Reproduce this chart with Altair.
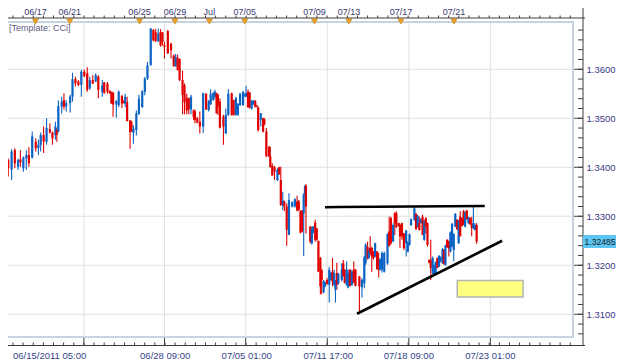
import altair as alt
import pandas as pd

# ---------------- candle data (4-hour bars) ----------------
# bar_pos: position of each bar along the time axis
# (axis units: 0 = 06/15/2011 05:00, 82.5 units = 112 trading hours)
bar_pos = [
    1.7,3.3,6.7,10,13.3,15.7,18.7,21.7,24.3,27.7,31.3,34,36.3,39.3,42.3,45.7,48.3,51.3,52.7,54.3,
    57.7,60,62.3,66.3,68.7,71.7,74.7,77.7,80.7,83.7,86.3,89.3,92.3,95,
    99,101,104.3,106.7,108.3,110,113.3,115.7,119,121,122.3,124.3,127.3,128.7,130.7,133.7,136.3,
    139.7,142.3,145,148.3,151,153.3,156,158.3,160.3,162.3,165.7,169,171.7,173.7,175.7,177.7,
    180.7,182.7,185,187,189.3,192,
    193.3,195.7,198.3,201.7,204.7,207.3,209.3,212,213.7,215.3,216.7,218.7,222.3,224.7,227.3,
    230.7,232.7,235,237,239.3,242.3,244,245.3,247.3,249,251,252.7,254.7,256.3,257.7,260.3,
    262.7,264,266,268.7,270,272,274.3,277.3,279,280.7,282.7,284.3,286.7,289,
    292.3,295,297.3,299,300.7,302.3,304,305.3,306.3,310.7,312.3,313.7,315.7,317.3,319,321,
    322.3,324.3,325.7,327.7,330,331.7,333.3,335,336.3,337.7,339.3,342.7,344.3,345.7,347.7,
    349.3,351,353,355,356.7,360.7,363.3,365.7,367,369,370.3,371.7,373.3,375,376.7,378.7,
    380.3,381.7,383.7,
    386,389.3,391,392.7,395,396.7,398.3,400.7,402,404,406,408.3,410,411.7,413.3,416.7,418.3,
    420,421.7,423.3,425,426.7,428.3,430,431.7,433.3,435.3,437,438.3,440,441.7,443.3,445.3,
    446.7,448.3,450,451.7,453.3,455,456.7,458.3,460,461.7,463.3,465,466.7,468.3,470,471.7,
    473.3,475,476.7,478.3,480,
]
open_ = [
    1.3468,1.3415,1.3395,1.3435,1.3401,1.3416,1.3398,1.3418,1.3425,1.3420,
    1.3452,1.3439,1.3446,1.3466,1.3452,1.3478,1.3471,1.3466,1.3477,1.3473,
    1.3524,1.3537,1.3524,1.3531,1.3544,1.3580,1.3575,1.3568,1.3595,1.3592,
    1.3561,1.3578,1.3575,1.3585,1.3554,1.3573,1.3571,1.3556,1.3554,1.3552,
    1.3528,1.3527,1.3546,1.3536,1.3530,1.3533,1.3496,1.3493,1.3470,1.3476,
    1.3508,1.3523,1.3554,1.3581,1.3608,1.3680,1.3676,1.3657,1.3676,1.3675,
    1.3649,1.3678,1.3652,1.3628,1.3606,1.3623,1.3621,1.3578,1.3567,1.3542,
    1.3541,1.3518,1.3516,1.3514,1.3500,1.3493,1.3483,1.3550,1.3517,1.3529,
    1.3537,1.3544,1.3551,1.3548,1.3534,1.3503,1.3469,1.3507,1.3551,1.3537,
    1.3507,1.3507,1.3527,1.3527,1.3546,1.3544,1.3554,1.3552,1.3520,1.3529,
    1.3536,1.3526,1.3522,1.3497,1.3500,1.3498,1.3473,1.3442,1.3422,1.3403,
    1.3400,1.3374,1.3400,1.3374,1.3323,1.3330,1.3320,1.3262,1.3320,1.3320,
    1.3330,1.3330,1.3310,1.3312,1.3306,1.3344,1.3362,1.3279,1.3245,1.3267,
    1.3287,1.3275,1.3250,1.3215,1.3191,1.3145,1.3157,1.3170,1.3160,1.3170,
    1.3187,1.3160,1.3150,1.3184,1.3163,1.3170,1.3204,1.3191,1.3160,1.3155,
    1.3191,1.3160,1.3191,1.3191,1.3177,1.3155,1.3163,1.3204,1.3238,1.3215,
    1.3235,1.3235,1.3228,1.3218,1.3228,1.3212,1.3191,1.3191,1.3187,1.3204,
    1.3269,1.3296,1.3249,1.3306,1.3306,1.3286,1.3282,1.3286,1.3265,1.3245,
    1.3228,1.3242,1.3282,1.3293,1.3305,1.3279,1.3286,1.3286,1.3299,1.3252,
    1.3296,1.3286,1.3211,1.3211,1.3184,1.3180,1.3185,1.3215,1.3197,1.3208,
    1.3204,1.3231,1.3201,1.3252,1.3249,1.3228,1.3238,1.3231,1.3279,1.3293,
    1.3245,1.3299,1.3296,1.3310,1.3279,1.3312,1.3286,1.3296,1.3286,1.3276,
    1.3272,1.3282,
]
high_ = [
    1.3473,1.3418,1.3437,1.3439,1.3418,1.3435,1.3422,1.3435,1.3441,1.3473,
    1.3459,1.3456,1.3471,1.3483,1.3500,1.3490,1.3473,1.3493,1.3480,1.3537,
    1.3544,1.3551,1.3537,1.3548,1.3593,1.3585,1.3578,1.3599,1.3599,1.3604,
    1.3585,1.3588,1.3592,1.3588,1.3578,1.3574,1.3574,1.3557,1.3554,1.3554,
    1.3537,1.3557,1.3547,1.3537,1.3550,1.3544,1.3496,1.3494,1.3486,1.3516,
    1.3548,1.3557,1.3584,1.3615,1.3684,1.3682,1.3682,1.3683,1.3682,1.3676,
    1.3656,1.3680,1.3654,1.3630,1.3631,1.3630,1.3622,1.3597,1.3571,1.3550,
    1.3542,1.3548,1.3518,1.3518,1.3503,1.3514,1.3552,1.3551,1.3537,1.3559,
    1.3554,1.3558,1.3552,1.3550,1.3541,1.3507,1.3520,1.3559,1.3552,1.3538,
    1.3544,1.3531,1.3552,1.3556,1.3550,1.3566,1.3559,1.3554,1.3537,1.3537,
    1.3537,1.3527,1.3524,1.3511,1.3501,1.3500,1.3480,1.3443,1.3442,1.3408,
    1.3403,1.3398,1.3401,1.3401,1.3350,1.3332,1.3326,1.3347,1.3330,1.3337,
    1.3342,1.3333,1.3312,1.3313,1.3347,1.3364,1.3366,1.3280,1.3279,1.3280,
    1.3293,1.3276,1.3250,1.3217,1.3191,1.3170,1.3167,1.3174,1.3197,1.3187,
    1.3215,1.3191,1.3170,1.3205,1.3184,1.3204,1.3211,1.3192,1.3208,1.3191,
    1.3192,1.3191,1.3208,1.3192,1.3178,1.3174,1.3219,1.3245,1.3248,1.3234,
    1.3259,1.3238,1.3229,1.3246,1.3229,1.3225,1.3215,1.3228,1.3228,1.3265,
    1.3299,1.3299,1.3286,1.3308,1.3310,1.3287,1.3284,1.3287,1.3266,1.3272,
    1.3249,1.3265,1.3296,1.3320,1.3306,1.3303,1.3299,1.3296,1.3303,1.3293,
    1.3298,1.3287,1.3212,1.3252,1.3218,1.3201,1.3208,1.3216,1.3221,1.3218,
    1.3235,1.3233,1.3242,1.3253,1.3250,1.3269,1.3286,1.3265,1.3306,1.3294,
    1.3293,1.3310,1.3298,1.3313,1.3310,1.3313,1.3299,1.3298,1.3299,1.3320,
    1.3286,1.3286,
]
low_ = [
    1.3410,1.3381,1.3374,1.3398,1.3395,1.3401,1.3391,1.3395,1.3401,1.3418,
    1.3432,1.3425,1.3432,1.3429,1.3446,1.3469,1.3446,1.3456,1.3452,1.3471,
    1.3510,1.3518,1.3514,1.3512,1.3534,1.3565,1.3566,1.3544,1.3584,1.3554,
    1.3558,1.3570,1.3574,1.3541,1.3544,1.3550,1.3550,1.3550,1.3530,1.3503,
    1.3501,1.3523,1.3521,1.3530,1.3523,1.3494,1.3438,1.3472,1.3448,1.3465,
    1.3508,1.3521,1.3547,1.3578,1.3608,1.3657,1.3656,1.3656,1.3646,1.3648,
    1.3622,1.3632,1.3622,1.3605,1.3605,1.3598,1.3576,1.3508,1.3508,1.3508,
    1.3508,1.3508,1.3496,1.3490,1.3490,1.3469,1.3470,1.3517,1.3514,1.3527,
    1.3536,1.3541,1.3510,1.3507,1.3479,1.3446,1.3468,1.3505,1.3505,1.3505,
    1.3505,1.3505,1.3525,1.3525,1.3544,1.3543,1.3522,1.3520,1.3518,1.3527,
    1.3522,1.3522,1.3473,1.3483,1.3471,1.3486,1.3422,1.3420,1.3400,1.3383,
    1.3374,1.3372,1.3384,1.3321,1.3313,1.3310,1.3240,1.3262,1.3318,1.3318,
    1.3310,1.3310,1.3265,1.3267,1.3219,1.3342,1.3265,1.3245,1.3242,1.3265,
    1.3248,1.3250,1.3187,1.3141,1.3141,1.3143,1.3155,1.3160,1.3124,1.3169,
    1.3157,1.3158,1.3124,1.3150,1.3161,1.3167,1.3177,1.3163,1.3158,1.3153,
    1.3157,1.3158,1.3163,1.3157,1.3104,1.3134,1.3153,1.3201,1.3212,1.3213,
    1.3221,1.3187,1.3212,1.3216,1.3191,1.3175,1.3189,1.3185,1.3185,1.3201,
    1.3238,1.3242,1.3247,1.3262,1.3276,1.3279,1.3235,1.3252,1.3231,1.3218,
    1.3226,1.3240,1.3280,1.3291,1.3272,1.3277,1.3271,1.3285,1.3262,1.3250,
    1.3265,1.3238,1.3204,1.3170,1.3182,1.3178,1.3184,1.3194,1.3196,1.3206,
    1.3203,1.3201,1.3199,1.3235,1.3218,1.3226,1.3237,1.3208,1.3278,1.3272,
    1.3244,1.3259,1.3279,1.3282,1.3277,1.3293,1.3285,1.3282,1.3259,1.3274,
    1.3271,1.3244,
]
close_ = [
    1.3410,1.3398,1.3432,1.3408,1.3415,1.3410,1.3420,1.3425,1.3408,1.3463,
    1.3439,1.3446,1.3466,1.3452,1.3480,1.3471,1.3459,1.3483,1.3466,1.3525,
    1.3534,1.3524,1.3531,1.3544,1.3580,1.3571,1.3568,1.3595,1.3586,1.3558,
    1.3578,1.3571,1.3588,1.3558,1.3567,1.3552,1.3554,1.3551,1.3530,1.3528,
    1.3535,1.3554,1.3530,1.3531,1.3544,1.3494,1.3472,1.3474,1.3479,1.3510,
    1.3540,1.3555,1.3581,1.3608,1.3683,1.3659,1.3657,1.3673,1.3649,1.3656,
    1.3646,1.3632,1.3639,1.3607,1.3625,1.3598,1.3578,1.3548,1.3533,1.3516,
    1.3518,1.3544,1.3503,1.3497,1.3491,1.3483,1.3551,1.3518,1.3536,1.3550,
    1.3551,1.3554,1.3510,1.3524,1.3481,1.3483,1.3507,1.3550,1.3507,1.3507,
    1.3541,1.3529,1.3550,1.3554,1.3548,1.3551,1.3522,1.3522,1.3536,1.3536,
    1.3524,1.3524,1.3476,1.3510,1.3473,1.3488,1.3422,1.3423,1.3400,1.3383,
    1.3391,1.3395,1.3386,1.3323,1.3332,1.3320,1.3272,1.3333,1.3329,1.3335,
    1.3312,1.3313,1.3267,1.3269,1.3344,1.3362,1.3320,1.3248,1.3275,1.3279,
    1.3252,1.3252,1.3187,1.3157,1.3170,1.3167,1.3165,1.3162,1.3191,1.3184,
    1.3167,1.3184,1.3163,1.3160,1.3182,1.3191,1.3178,1.3165,1.3191,1.3184,
    1.3158,1.3187,1.3165,1.3158,1.3157,1.3170,1.3216,1.3242,1.3215,1.3231,
    1.3225,1.3218,1.3215,1.3245,1.3192,1.3201,1.3212,1.3225,1.3225,1.3264,
    1.3240,1.3245,1.3282,1.3286,1.3278,1.3280,1.3259,1.3259,1.3235,1.3271,
    1.3247,1.3263,1.3294,1.3316,1.3274,1.3301,1.3272,1.3294,1.3262,1.3289,
    1.3279,1.3242,1.3205,1.3194,1.3215,1.3199,1.3206,1.3195,1.3219,1.3217,
    1.3233,1.3203,1.3240,1.3237,1.3235,1.3267,1.3285,1.3264,1.3305,1.3274,
    1.3291,1.3259,1.3280,1.3286,1.3308,1.3294,1.3298,1.3284,1.3276,1.3286,
    1.3282,1.32485,
]

# ---------------- axes / annotation values (same time-axis units) ----------------
price_ticks = [1.31, 1.32, 1.33, 1.34, 1.35, 1.36]
grid_pos = [80.3, 162.3, 245.0, 328.0, 411.0, 494.0]
bottom_pos = [0.0, 163.0, 246.0, 329.0, 411.0, 494.0]
bottom_text = ["06/15/2011 05:00", "06/28 09:00", "07/05 01:00", "07/11 17:00", "07/18 09:00", "07/23 01:00"]
event_pos = [31, 66, 137, 173, 208, 244, 315, 350, 403, 457]
event_text = ["06/17", "06/21", "06/25", "06/29", "Jul", "07/05", "07/09", "07/13", "07/17", "07/21"]
line_name = ["resistance", "resistance", "resistance", "support", "support"]
line_pos = [325.7, 340.0, 488.3, 358.3, 506.0]
line_price = [1.33185, 1.3319, 1.3321, 1.3101, 1.3250]
box_pos = [460.3, 527.3]
box_price = [1.3135, 1.3169]

W, H = 573, 315
FONT = "Liberation Sans"
xs = alt.Scale(domain=[0, W], nice=False, zero=False)
ys = alt.Scale(domain=[1.30536, 1.36965], nice=False, zero=False)
yaxis = alt.Axis(orient="right", values=price_ticks, format=".4f", offset=10, ticks=False,
                 domain=False, grid=False, title="", labelFont=FONT, labelFontSize=9.5,
                 labelColor="#3A3A86", labelPadding=3)

candles = pd.DataFrame({"t": bar_pos, "open": open_, "high": high_, "low": low_, "close": close_})
candles["dir"] = ["up" if c >= o else "down" for o, c in zip(open_, close_)]
col = alt.Color("dir:N", scale=alt.Scale(domain=["up", "down"], range=["#0B63C5", "#E00000"]),
                legend=None)
X = lambda f: alt.X(f, scale=xs, axis=None)
Y = lambda f: alt.Y(f, scale=ys, axis=yaxis)
one = pd.DataFrame({"k": [0]})

frame = alt.Chart(one).mark_rect(fill="transparent", stroke="#C9D3DF", strokeWidth=2).encode(
    x=alt.value(0), x2=alt.value(W), y=alt.value(0), y2=alt.value(H))
hgrid = alt.Chart(pd.DataFrame({"p": price_ticks})).mark_rule(color="#E1E1E1").encode(
    y=Y("p:Q"), x=alt.value(0), x2=alt.value(W))
vgrid = alt.Chart(pd.DataFrame({"t": grid_pos})).mark_rule(color="#E1E1E1").encode(
    x=X("t:Q"), y=alt.value(0), y2=alt.value(H))

wick = alt.Chart(candles).mark_rule(strokeWidth=1.1).encode(
    x=X("t:Q"), y=Y("low:Q"), y2="high:Q", color=col)
body = alt.Chart(candles).mark_bar(size=2.2).encode(
    x=X("t:Q"), y=Y("open:Q"), y2="close:Q", color=col)

lines = alt.Chart(pd.DataFrame({"name": line_name, "t": line_pos, "p": line_price})).mark_line(
    color="black", strokeWidth=2.6).encode(x=X("t:Q"), y=Y("p:Q"), detail="name:N")
ybox = alt.Chart(pd.DataFrame({"t1": [box_pos[0]], "t2": [box_pos[1]],
                               "p1": [box_price[0]], "p2": [box_price[1]]})).mark_rect(
    fill="#FFFF80", stroke="#B4B4B4", strokeWidth=1.5).encode(
    x=X("t1:Q"), x2="t2:Q", y=Y("p1:Q"), y2="p2:Q")

template = alt.Chart(one).mark_text(text="[Template:  CCi]", align="left", baseline="middle",
                                    font=FONT, fontSize=9, color="#5D5D80").encode(
    x=alt.value(9), y=alt.value(6))

# right price axis line and inward ticks
minor_p = [round(1.306 + 0.002 * k, 4) for k in range(32)]
r_line = alt.Chart(one).mark_rule(color="#3C3C3C").encode(
    x=alt.value(W + 10), y=alt.value(-20), y2=alt.value(H + 9))
r_minor = alt.Chart(pd.DataFrame({"p": minor_p})).mark_rule(color="#3C3C3C").encode(
    y=Y("p:Q"), x=alt.value(W + 5), x2=alt.value(W + 10))
r_major = alt.Chart(pd.DataFrame({"p": price_ticks})).mark_rule(color="#3C3C3C").encode(
    y=Y("p:Q"), x=alt.value(W + 1), x2=alt.value(W + 10))

last = close_[-1]
cur = pd.DataFrame({"p": [last], "lo": [last - 0.00133], "hi": [last + 0.00133],
                    "txt": [f"{last:.5f}"]})
cur_box = alt.Chart(cur).mark_rect(color="#5BC6F2").encode(
    x=alt.value(W + 10), x2=alt.value(W + 51), y=Y("lo:Q"), y2="hi:Q")
cur_txt = alt.Chart(cur).mark_text(align="left", baseline="middle", font=FONT, fontSize=8.6,
                                   color="#1A1A2A").encode(
    x=alt.value(W + 11.5), y=Y("p:Q"), text="txt:N")

# bottom time axis
step = 82.5 / 8
minor_t = [grid_pos[0] + step * k for k in range(-7, 49) if grid_pos[0] + step * k <= W + 6]
b_line = alt.Chart(one).mark_rule(color="#3C3C3C").encode(
    x=alt.value(0), x2=alt.value(W + 12), y=alt.value(H + 8.5))
b_minor = alt.Chart(pd.DataFrame({"t": minor_t})).mark_rule(color="#3C3C3C").encode(
    x=X("t:Q"), y=alt.value(H + 5.5), y2=alt.value(H + 8.5))
b_major = alt.Chart(pd.DataFrame({"t": grid_pos})).mark_rule(color="#3C3C3C").encode(
    x=X("t:Q"), y=alt.value(H + 1), y2=alt.value(H + 8.5))
bdf = pd.DataFrame({"t": bottom_pos, "txt": bottom_text})
b_first = alt.Chart(bdf.iloc[:1]).mark_text(align="left", baseline="middle", font=FONT,
                                             fontSize=9.5, color="#33448A", dx=8).encode(
    x=X("t:Q"), y=alt.value(H + 18.5), text="txt:N")
b_rest = alt.Chart(bdf.iloc[1:]).mark_text(align="center", baseline="middle", font=FONT,
                                            fontSize=9.5, color="#33448A").encode(
    x=X("t:Q"), y=alt.value(H + 18.5), text="txt:N")

# top event bar
t_line = alt.Chart(one).mark_rule(color="#3C3C3C").encode(
    x=alt.value(0), x2=alt.value(W + 12), y=alt.value(-4))
t_minor = alt.Chart(pd.DataFrame({"t": minor_t})).mark_rule(color="#3C3C3C").encode(
    x=X("t:Q"), y=alt.value(-6.5), y2=alt.value(-4))
edf = pd.DataFrame({"t": event_pos, "txt": event_text})
t_tri = alt.Chart(edf).mark_point(shape="triangle-down", filled=True, size=36, color="#F5A21C",
                                  stroke="#C07A10", strokeWidth=0.6, opacity=1).encode(
    x=X("t:Q"), y=alt.value(-0.5))
t_txt = alt.Chart(edf).mark_text(align="center", baseline="bottom", font=FONT, fontSize=9,
                                 color="#3A3A70").encode(
    x=X("t:Q"), y=alt.value(-5.5), text="txt:N")

chart = alt.layer(
    hgrid, vgrid, frame, wick, body, lines, ybox, template,
    r_line, r_minor, r_major, cur_box, cur_txt,
    b_line, b_minor, b_major, b_first, b_rest,
    t_line, t_minor, t_tri, t_txt,
).properties(
    width=W, height=H,
    autosize=alt.AutoSizeParams(type="none"),
    padding={"left": -8, "top": 14, "right": 43, "bottom": 27},
).configure_view(strokeWidth=0)

chart.save("out.html", embed_options={"renderer": "svg", "actions": False})
